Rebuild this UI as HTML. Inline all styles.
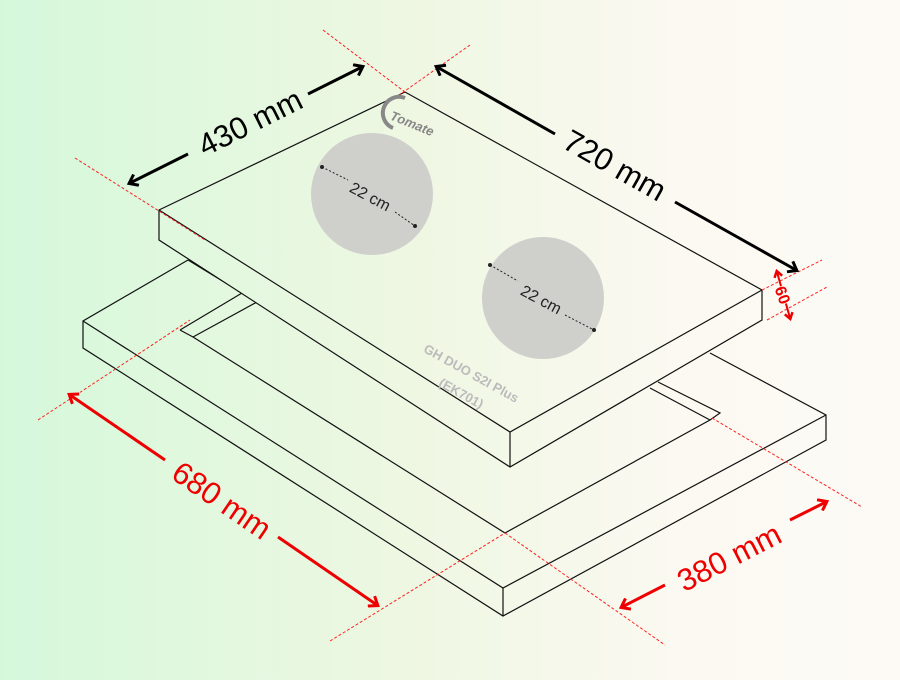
<!DOCTYPE html>
<html><head><meta charset="utf-8"><style>
html,body{margin:0;padding:0}
body{width:900px;height:675px;overflow:hidden;background:linear-gradient(90deg,#d5f8db 0%,#eef7e2 45%,#fbf9f1 75%,#fdfaf6 100%);font-family:"Liberation Sans",sans-serif}
</style></head><body>
<svg width="900" height="675" viewBox="0 0 900 675" xmlns="http://www.w3.org/2000/svg">
<defs>
<linearGradient id="bg" gradientUnits="userSpaceOnUse" x1="0" y1="0" x2="900" y2="0">
<stop offset="0" stop-color="#d5f8db"/><stop offset="0.45" stop-color="#eef7e2"/><stop offset="0.75" stop-color="#fbf9f1"/><stop offset="1" stop-color="#fdfaf6"/>
</linearGradient>
<marker id="ab" markerWidth="14" markerHeight="14" refX="9" refY="7" orient="auto-start-reverse" markerUnits="userSpaceOnUse"><path d="M2,1 L10,7 L2,13" fill="none" stroke="#000" stroke-width="3"/></marker>
<marker id="ar" markerWidth="14" markerHeight="14" refX="9" refY="7" orient="auto-start-reverse" markerUnits="userSpaceOnUse"><path d="M2,1 L10,7 L2,13" fill="none" stroke="#e00" stroke-width="3"/></marker>
<marker id="ar2" markerWidth="10" markerHeight="10" refX="6" refY="5" orient="auto-start-reverse" markerUnits="userSpaceOnUse"><path d="M1,1 L7,5 L1,9" fill="none" stroke="#e00" stroke-width="2.5"/></marker>
</defs>
<g fill="none" stroke="#111" stroke-width="1.2">
<!-- frame -->
<polyline points="188,260 83,321 83,348 503,616 826,440 826,415 710,353"/>
<polyline points="83,321 503,588 826,415"/>
<line x1="503" y1="588" x2="503" y2="616"/>
<polyline points="188,260 257,302"/>
<line x1="180" y1="330" x2="242" y2="293"/>
<line x1="193" y1="337" x2="257" y2="302"/>
<polyline points="180,330 193,337 505,533 710,420 720,413 658,382"/>
<line x1="650" y1="388" x2="710" y2="420"/>
</g>
<!-- slab -->
<polygon points="159,210 405,92 762,290 762,320 510,467 159,240" fill="url(#bg)" stroke="#111" stroke-width="1.2"/>
<g fill="none" stroke="#111" stroke-width="1.2">
<polyline points="159,210 510,432 762,290"/>
<line x1="510" y1="432" x2="510" y2="467"/>
</g>
<g fill="none" stroke="#f22" stroke-width="1" stroke-dasharray="3,2">
<line x1="323" y1="30" x2="405" y2="92"/>
<line x1="470" y1="45" x2="395" y2="98"/>
<line x1="75" y1="158" x2="205" y2="240"/>
<line x1="38" y1="420" x2="190" y2="320"/>
<line x1="330" y1="641" x2="505" y2="533"/>
<line x1="505" y1="533" x2="665" y2="645"/>
<line x1="712" y1="418" x2="862" y2="507"/>
<line x1="762" y1="290" x2="822" y2="260"/>
<line x1="767" y1="320" x2="827" y2="287"/>
</g>
<circle cx="372" cy="194" r="61" fill="#cfcfcc"/>
<circle cx="543" cy="298" r="61" fill="#cfcfcc"/>
<g stroke="#222" stroke-width="1" stroke-dasharray="2,2">
<line x1="322" y1="167" x2="348" y2="180"/><line x1="395" y1="212" x2="415" y2="226"/>
<line x1="490" y1="265" x2="518" y2="281"/><line x1="565" y1="315" x2="594" y2="330"/>
</g>
<circle cx="322" cy="167" r="2" fill="#222"/><circle cx="415" cy="226" r="2" fill="#222"/>
<circle cx="490" cy="265" r="2" fill="#222"/><circle cx="594" cy="330" r="2" fill="#222"/>
<text x="370" y="202" font-size="16" fill="#222" text-anchor="middle" transform="rotate(28 370 197)">22 cm</text>
<text x="541" y="305" font-size="16" fill="#222" text-anchor="middle" transform="rotate(28 541 300)">22 cm</text>
<text x="472" y="378" font-size="13" font-weight="bold" fill="#bbb" text-anchor="middle" transform="rotate(29 472 372)">GH DUO S2I Plus</text>
<text x="462" y="398" font-size="13" font-weight="bold" fill="#bbb" text-anchor="middle" transform="rotate(29 462 392)">(EK701)</text>
<path d="M393,128 A14,14 0 0 1 405,98" fill="none" stroke="#888" stroke-width="4"/>
<text x="412" y="128" font-size="13" font-weight="bold" font-style="italic" fill="#888" text-anchor="middle" transform="rotate(22 412 124)">Tomate</text>
<!-- dims -->
<g stroke="#000" stroke-width="3" fill="none">
<line x1="130" y1="183" x2="188" y2="154" marker-start="url(#ab)"/>
<line x1="308" y1="94" x2="362" y2="67" marker-end="url(#ab)"/>
<line x1="437" y1="67" x2="555" y2="134" marker-start="url(#ab)"/>
<line x1="675" y1="202" x2="796" y2="270" marker-end="url(#ab)"/>
</g>
<g stroke="#e00" stroke-width="3" fill="none">
<line x1="70" y1="395" x2="165" y2="460" marker-start="url(#ar)"/>
<line x1="278" y1="537" x2="377" y2="605" marker-end="url(#ar)"/>
<line x1="622" y1="607" x2="665" y2="585" marker-start="url(#ar)"/>
<line x1="790" y1="520" x2="826" y2="502" marker-end="url(#ar)"/>
<line x1="777" y1="272" x2="790" y2="318" stroke-width="2" marker-start="url(#ar2)" marker-end="url(#ar2)"/>
</g>
<text x="250" y="133" font-size="31" fill="#000" text-anchor="middle" transform="rotate(-26.6 250 122)">430 mm</text>
<text x="615" y="176" font-size="31" fill="#000" text-anchor="middle" transform="rotate(29.5 615 165)">720 mm</text>
<text x="222" y="511" font-size="31" fill="#e00" text-anchor="middle" transform="rotate(34.4 222 500)">680 mm</text>
<text x="729" y="568" font-size="31" fill="#e00" text-anchor="middle" transform="rotate(-27.2 729 557)">380 mm</text>
<rect x="774" y="286" width="18" height="18" fill="#fcfaf4" transform="rotate(70 783 295)"/>
<text x="783" y="301" font-size="16" font-weight="bold" fill="#e00" text-anchor="middle" transform="rotate(70 783 295)">60</text>
</svg>
</body></html>
